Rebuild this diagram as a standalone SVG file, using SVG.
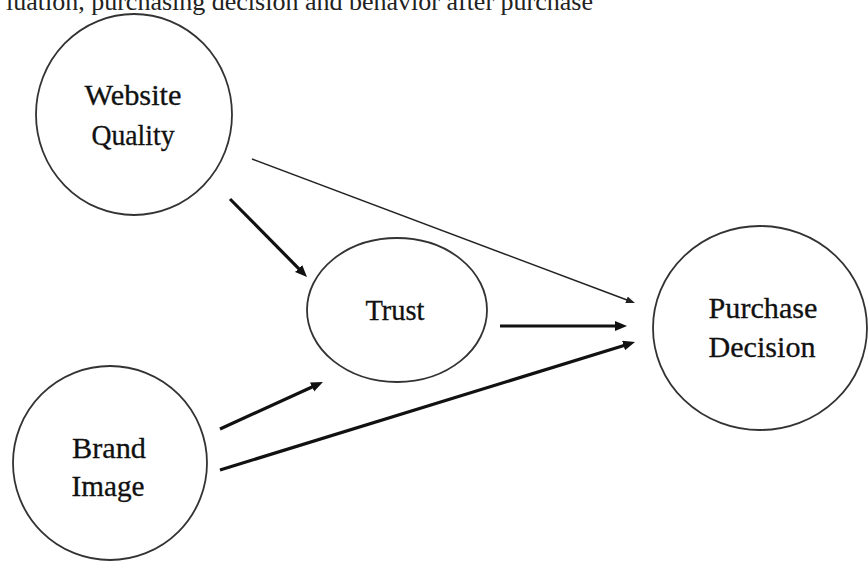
<svg xmlns="http://www.w3.org/2000/svg" width="868" height="563" viewBox="0 0 868 563">
  <defs>
    <style>
      .node { fill: none; stroke: #333; stroke-width: 1.8; }
      .lbl { font-family: "Liberation Serif", "Times New Roman", serif; font-size: 28.5px; fill: #111; text-anchor: middle; stroke: #111; stroke-width: 0.3; }
      .cap { font-family: "Liberation Serif", "Times New Roman", serif; font-size: 26px; fill: #222; }
      .thick { stroke: #111; stroke-width: 3.2; fill: none; marker-end: url(#ahThick); }
      .thin { stroke: #222; stroke-width: 1.6; fill: none; marker-end: url(#ahThin); }
    </style>
    <marker id="ahThick" markerUnits="userSpaceOnUse" markerWidth="14" markerHeight="12" refX="3" refY="5" orient="auto">
      <path d="M0,0 L12,5 L0,10 z" fill="#111"/>
    </marker>
    <marker id="ahThin" markerUnits="userSpaceOnUse" markerWidth="11" markerHeight="9" refX="2" refY="3.5" orient="auto">
      <path d="M0,0 L9,3.5 L0,7 z" fill="#222"/>
    </marker>
  </defs>
  <rect width="868" height="563" fill="#fff"/>
  <text class="cap" x="6" y="10">luation, purchasing decision and behavior after purchase</text>

  <g id="website-quality">
    <ellipse class="node" cx="134" cy="114.5" rx="98" ry="100.5"/>
    <text class="lbl" x="133" y="105" textLength="97" lengthAdjust="spacingAndGlyphs">Website</text>
    <text class="lbl" x="133" y="145" textLength="83" lengthAdjust="spacingAndGlyphs">Quality</text>
  </g>
  <g id="brand-image">
    <ellipse class="node" cx="110" cy="463" rx="97" ry="97"/>
    <text class="lbl" x="109" y="458" textLength="74" lengthAdjust="spacingAndGlyphs">Brand</text>
    <text class="lbl" x="108" y="496" textLength="73" lengthAdjust="spacingAndGlyphs">Image</text>
  </g>
  <g id="trust">
    <ellipse class="node" cx="397" cy="310" rx="90" ry="72"/>
    <text class="lbl" x="395" y="320" textLength="59" lengthAdjust="spacingAndGlyphs">Trust</text>
  </g>
  <g id="purchase-decision">
    <ellipse class="node" cx="760" cy="328" rx="107" ry="102"/>
    <text class="lbl" x="763" y="318" textLength="109" lengthAdjust="spacingAndGlyphs">Purchase</text>
    <text class="lbl" x="762" y="357" textLength="107" lengthAdjust="spacingAndGlyphs">Decision</text>
  </g>

  <g id="connectors">
    <path class="thin" d="M252,159 L628.4,300.5"/>
    <path class="thick" d="M230,199 L300.7,270.6"/>
    <path class="thick" d="M500,326 L618,326"/>
    <path class="thick" d="M220,429 L314.8,385.7"/>
    <path class="thick" d="M220,470 L626.4,344.7"/>
  </g>
</svg>
